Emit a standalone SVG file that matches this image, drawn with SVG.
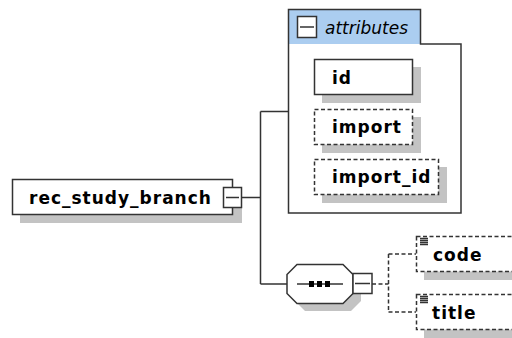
<svg xmlns="http://www.w3.org/2000/svg" width="512" height="338" viewBox="0 0 512 338">
<style>
.box{fill:#fff;stroke:#333;stroke-width:1.5}
.dbox{fill:#fff;stroke:#333;stroke-width:1.5;stroke-dasharray:4,2.5}
.sh{fill:#c3c3c3}
.lbl{font-family:"DejaVu Sans",Verdana,sans-serif;font-weight:bold;font-size:17px;letter-spacing:1px;fill:#000}
.ln{stroke:#333;stroke-width:1.5;fill:none}
.dln{stroke:#333;stroke-width:1.5;fill:none;stroke-dasharray:4,2.5}
.ic{fill:#fff;stroke:#333;stroke-width:1.5}
</style>
<rect width="512" height="338" fill="#fff"/>
<g id="connectors">
<path class="ln" d="M241,197.5 H260.5 M260.5,111.5 V284 M260.5,111.5 H288 M260.5,284 H287"/>
<path class="dln" d="M372,284 H388.5 M388.5,254 V312 M388.5,254 H416 M388.5,312 H416"/>
</g>
<g id="rec_study_branch">
<rect class="sh" x="20" y="187" width="222" height="36"/>
<rect class="box" x="12.5" y="179.5" width="220" height="35"/>
<text class="lbl" x="29" y="204">rec_study_branch</text>
<rect class="ic" x="223.5" y="187.5" width="18" height="20"/>
<path class="ln" d="M226,197.5 H239"/>
</g>
<g id="attributes">
<path d="M288.5,9.5 H420.5 V44 H288.5 Z" fill="#abcdf0"/>
<path class="ln" d="M288.5,213 V9.5 H420.5 V44 H461 V213 Z"/>
<rect class="ic" x="297.5" y="16.5" width="19" height="21"/>
<path class="ln" d="M300,27 H314"/>
<text x="325" y="34" font-family="DejaVu Sans,Verdana,sans-serif" font-style="italic" font-size="17" fill="#000">attributes</text>
</g>
<g id="id">
<rect class="sh" x="322" y="67" width="99" height="36"/>
<rect class="box" x="314.5" y="59.5" width="98" height="35"/>
<text class="lbl" x="332" y="84">id</text>
</g>
<g id="import">
<rect class="sh" x="322" y="117" width="99" height="36"/>
<rect class="dbox" x="314.5" y="109.5" width="98" height="35"/>
<text class="lbl" x="332" y="133">import</text>
</g>
<g id="import_id">
<rect class="sh" x="322" y="167" width="125" height="36"/>
<rect class="dbox" x="314.5" y="159.5" width="124" height="35"/>
<text class="lbl" x="332" y="183">import_id</text>
</g>
<g id="sequence">
<path class="sh" d="M305,272 H351 L361,282 V301 L351,311 H305 L295,301 V282 Z"/>
<path class="box" d="M297,264.5 H343 L353,274.5 V293.5 L343,303.5 H297 L287,293.5 V274.5 Z"/>
<path class="ln" d="M297,284 H343"/>
<rect x="309" y="281" width="5" height="6" fill="#000"/>
<rect x="317" y="281" width="5" height="6" fill="#000"/>
<rect x="325" y="281" width="5" height="6" fill="#000"/>
<rect class="ic" x="353" y="273.5" width="19" height="20"/>
<path class="ln" d="M355,283.5 H370"/>
</g>
<g id="code">
<rect class="sh" x="424" y="244" width="100" height="36"/>
<rect class="dbox" x="416.5" y="236.5" width="110" height="35"/>
<path class="ln" stroke-width="1" d="M420,238.5 H428 M420,240.5 H428 M420,242.5 H428 M420,244.5 H428"/>
<text class="lbl" x="433" y="261">code</text>
</g>
<g id="title">
<rect class="sh" x="424" y="302" width="100" height="36"/>
<rect class="dbox" x="416.5" y="294.5" width="110" height="35"/>
<path class="ln" stroke-width="1" d="M420,296.5 H428 M420,298.5 H428 M420,300.5 H428 M420,302.5 H428"/>
<text class="lbl" x="432" y="319">title</text>
</g>
</svg>
